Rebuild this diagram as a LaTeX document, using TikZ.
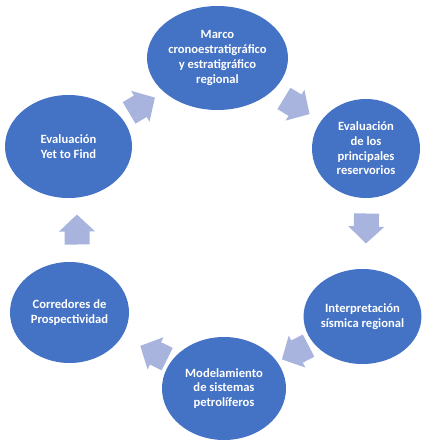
\documentclass[tikz,border=0pt]{standalone}
\usepackage{fontspec}
\setmainfont{Carlito}
\usetikzlibrary{shapes.geometric,calc}
\definecolor{nodeblue}{RGB}{68,114,196}
\definecolor{arrowblue}{RGB}{168,180,222}
\begin{document}
\begin{tikzpicture}[x=1pt,y=-1pt,
  stage/.style={ellipse, fill=nodeblue, draw=none, inner sep=0pt, text=white,
    font=\bfseries\fontsize{12.6}{14.7}\selectfont, align=center},
  cycarrow/.pic={\fill[arrowblue] (-15,-12.5) -- (-2,-12.5) -- (-2,-18) -- (15,0)
    -- (-2,18) -- (-2,12.5) -- (-15,12.5) -- cycle;}]
\useasboundingbox (0,0) rectangle (421,444);
\node[stage, minimum width=141pt, minimum height=104pt] (marco) at (217.5,58)
  {Marco\\cronoestratigráfico\\y estratigráfico\\regional};
\node[stage, minimum width=108pt, minimum height=99pt] (eval) at (366,148.5)
  {Evaluación\\de los\\principales\\reservorios};
\node[stage, minimum width=115pt, minimum height=95pt] (interp) at (362.5,316.5)
  {Interpretación\\sísmica regional};
\node[stage, minimum width=124pt, minimum height=103pt] (model) at (224,388.5)
  {Modelamiento\\de sistemas\\petrolíferos};
\node[stage, minimum width=119pt, minimum height=101pt] (corr) at (69.5,312.5)
  {Corredores de\\Prospectividad};
\node[stage, minimum width=127pt, minimum height=103pt] (yet) at (68.5,146.5)
  {Evaluación\\Yet to Find};
\foreach \a/\b/\dx/\dy in {yet/marco/-1/3, marco/eval/5/3, eval/interp/2/-4,
    interp/model/2/0, model/corr/7/2, corr/yet/8/0}{
  \path let \p1=($(\b)-(\a)$), \n1={atan2(\y1,\x1)} in
    pic[rotate=\n1] at ($($(\a)!0.5!(\b)$)+(\dx,\dy)$) {cycarrow};
}
\end{tikzpicture}
\end{document}
